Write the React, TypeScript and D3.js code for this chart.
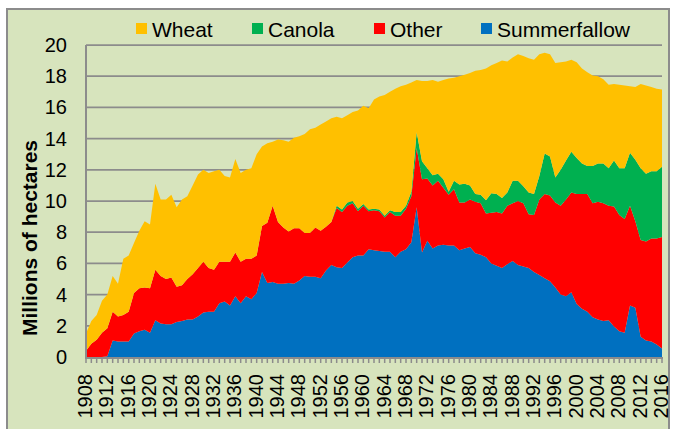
import { useEffect, useRef } from "react";
import * as d3 from "d3";

// years 1908..2016
const years = d3.range(1908, 2017);

// millions of hectares
const summerfallow = [
  0, 0, 0, 0, 0.05, 1.05, 1.0, 1.0, 1.0, 1.5, 1.65, 1.75, 1.55, 2.35, 2.15, 2.1, 2.1, 2.25, 2.3, 2.4,
  2.4, 2.6, 2.85, 2.9, 2.9, 3.45, 3.55, 3.3, 3.9, 3.45, 3.9, 3.7, 4.1, 5.45, 4.75, 4.8, 4.7, 4.7, 4.75, 4.7,
  4.9, 5.2, 5.15, 5.15, 5.05, 5.55, 5.9, 5.75, 5.7, 6.05, 6.4, 6.5, 6.5, 6.9, 6.85, 6.8, 6.75, 6.75, 6.4, 6.75,
  6.9, 7.35, 9.6, 6.7, 7.45, 6.95, 7.15, 7.2, 7.15, 7.15, 6.85, 6.95, 7.05, 6.65, 6.55, 6.4, 6.0, 5.85, 5.7, 5.95,
  6.15, 5.9, 5.8, 5.7, 5.45, 5.25, 5.05, 4.85, 4.45, 4.0, 3.9, 4.15, 3.4, 3.1, 2.9, 2.55, 2.4, 2.3, 2.35, 1.95,
  1.65, 1.55, 3.3, 3.15, 1.3, 1.05, 1.0, 0.8, 0.55,
];
const other = [
  0.4, 0.85, 1.1, 1.55, 1.8, 1.85, 1.6, 1.7, 1.9, 2.6, 2.75, 2.7, 2.85, 3.25, 3.05, 2.9, 3.0, 2.25, 2.3, 2.6,
  2.9, 3.1, 3.25, 2.8, 2.7, 2.65, 2.55, 2.8, 2.8, 2.65, 2.4, 2.6, 2.4, 2.95, 3.85, 4.9, 3.95, 3.6, 3.3, 3.55,
  3.35, 2.75, 2.8, 3.15, 3.05, 2.8, 2.75, 3.8, 3.6, 3.65, 3.45, 2.85, 3.2, 2.45, 2.55, 2.55, 2.2, 2.55, 2.65, 2.3,
  2.6, 2.95, 3.8, 4.7, 4.0, 4.05, 4.15, 3.65, 3.25, 3.6, 3.05, 2.95, 3.05, 3.3, 3.3, 2.8, 3.25, 3.45, 3.5, 3.75,
  3.7, 4.1, 4.05, 3.45, 3.65, 4.85, 5.4, 5.5, 5.45, 5.7, 6.2, 6.4, 7.05, 7.35, 7.55, 7.3, 7.55, 7.55, 7.35, 7.7,
  7.45, 7.3, 6.4, 5.55, 6.2, 6.35, 6.6, 6.8, 7.15,
];
const canola = [
  0, 0, 0, 0, 0, 0, 0, 0, 0, 0, 0, 0, 0, 0, 0, 0, 0, 0, 0, 0,
  0, 0, 0, 0, 0, 0, 0, 0, 0, 0, 0, 0, 0, 0, 0, 0, 0, 0, 0, 0,
  0, 0, 0, 0, 0, 0, 0, 0.15, 0.15, 0.2, 0.15, 0.15, 0.1, 0.1, 0.1, 0.1, 0.1, 0.1, 0.25, 0.25,
  0.2, 0.3, 1.0, 1.15, 0.65, 0.65, 0.45, 0.55, 0.2, 0.55, 1.15, 1.2, 0.9, 0.5, 0.55, 0.85, 1.25, 1.15, 1.0, 0.85,
  1.45, 1.3, 1.1, 1.4, 1.35, 1.5, 2.6, 2.5, 1.6, 2.3, 2.5, 2.6, 2.3, 1.95, 1.8, 2.4, 2.45, 2.55, 2.4, 2.95,
  3.0, 3.25, 3.4, 3.95, 4.6, 4.35, 4.3, 4.3, 4.5,
];
const wheat = [
  1.1, 1.45, 1.6, 2.05, 2.15, 2.3, 2.1, 3.6, 3.6, 3.2, 3.7, 4.25, 4.1, 5.5, 4.9, 5.1, 5.3, 5.1, 5.5, 5.3,
  5.7, 6.0, 5.9, 6.1, 6.3, 5.9, 5.5, 5.4, 6.0, 5.7, 5.7, 5.8, 6.5, 5.1, 5.1, 4.1, 5.3, 5.6, 5.75, 5.8,
  5.9, 6.35, 6.65, 6.4, 6.8, 6.75, 6.65, 5.7, 5.85, 5.6, 5.7, 6.3, 6.3, 6.5, 7.0, 7.25, 7.75, 7.6, 7.9, 8.05,
  7.75, 7.0, 3.35, 5.15, 5.6, 6.1, 5.9, 6.35, 7.25, 6.6, 6.95, 7.0, 7.2, 7.9, 8.0, 8.45, 8.2, 8.4, 8.8, 8.4,
  7.9, 8.1, 8.35, 8.6, 8.6, 7.8, 6.45, 6.55, 7.35, 6.9, 6.35, 5.9, 6.15, 6.1, 6.0, 5.8, 5.6, 5.4, 5.35, 4.9,
  5.35, 5.3, 4.25, 4.65, 5.4, 5.65, 5.4, 5.3, 4.95,
];

const yTicks = d3.range(0, 21, 2);
const xLabelYears = d3.range(1908, 2017, 4);

const series = [
  { key: "Summerfallow", values: summerfallow, color: "#0070C0" },
  { key: "Other", values: other, color: "#FF0000" },
  { key: "Canola", values: canola, color: "#00B050" },
  { key: "Wheat", values: wheat, color: "#FFC000" },
];
const legendItems = [
  { key: "Wheat", color: "#FFC000", x: 136 },
  { key: "Canola", color: "#00B050", x: 252 },
  { key: "Other", color: "#FF0000", x: 374 },
  { key: "Summerfallow", color: "#0070C0", x: 481 },
];

export default function App() {
  const svgRef = useRef(null);

  useEffect(() => {
    document.body.style.margin = "0";
    const width = 673, height = 429;
    const margin = { top: 45, right: 11, bottom: 72, left: 86 };
    const font = "'Liberation Sans', Arial, sans-serif";

    const svg = d3.select(svgRef.current);
    svg.selectAll("*").remove();
    svg.attr("width", width).attr("height", height);

    svg.append("rect").attr("width", width).attr("height", height).attr("fill", "#ffffff");
    svg.append("rect")
      .attr("x", 7).attr("y", 9).attr("width", 662).attr("height", 440)
      .attr("fill", "#D7E4BD").attr("stroke", "#8C8C8C").attr("stroke-width", 2);

    const x = d3.scaleLinear().domain([1908, 2016]).range([margin.left, width - margin.right]);
    const y = d3.scaleLinear().domain([0, 20]).range([height - margin.bottom, margin.top]);

    // gridlines
    svg.append("g").selectAll("line").data(yTicks.filter((d) => d > 0)).join("line")
      .attr("x1", x(1908)).attr("x2", x(2016))
      .attr("y1", (d) => y(d)).attr("y2", (d) => y(d))
      .attr("stroke", "#8C8C8C").attr("stroke-width", 1.75);

    // stacked areas
    const table = years.map((yr, i) => {
      const row: any = { year: yr };
      series.forEach((s) => (row[s.key] = s.values[i]));
      return row;
    });
    const stacked = d3.stack().keys(series.map((s) => s.key))(table);
    const area = d3.area()
      .x((d: any) => x(d.data.year))
      .y0((d: any) => y(d[0]))
      .y1((d: any) => y(d[1]));
    svg.append("g").selectAll("path").data(stacked).join("path")
      .attr("fill", (d, i) => series[i].color)
      .attr("d", area as any);

    // axes
    svg.append("line")
      .attr("x1", x(1908)).attr("x2", x(1908)).attr("y1", y(20)).attr("y2", y(0))
      .attr("stroke", "#8C8C8C").attr("stroke-width", 2);
    svg.append("line")
      .attr("x1", x(1908) - 1).attr("x2", x(2016) + 1).attr("y1", y(0) + 1).attr("y2", y(0) + 1)
      .attr("stroke", "#8C8C8C").attr("stroke-width", 2);
    svg.append("g").selectAll("line").data(years).join("line")
      .attr("x1", (d) => x(d)).attr("x2", (d) => x(d))
      .attr("y1", y(0) + 1).attr("y2", y(0) + 6)
      .attr("stroke", "#8C8C8C").attr("stroke-width", 1.5);

    svg.append("g").selectAll("text").data(yTicks).join("text")
      .attr("x", 67).attr("y", (d) => y(d)).attr("dy", "0.35em")
      .attr("text-anchor", "end").attr("font-family", font).attr("font-size", 20)
      .text((d) => d);

    svg.append("g").selectAll("text").data(xLabelYears).join("text")
      .attr("transform", (d) => `translate(${x(d)},374) rotate(-90)`)
      .attr("dy", "0.3em").attr("text-anchor", "end")
      .attr("font-family", font).attr("font-size", 20)
      .text((d) => d);

    svg.append("text")
      .attr("transform", "translate(37,238) rotate(-90)")
      .attr("text-anchor", "middle").attr("font-family", font)
      .attr("font-size", 21).attr("font-weight", "bold")
      .text("Millions of hectares");

    // legend
    const lg = svg.append("g").selectAll("g").data(legendItems).join("g")
      .attr("transform", (d) => `translate(${d.x},0)`);
    lg.append("rect").attr("x", 0).attr("y", 23).attr("width", 11).attr("height", 11)
      .attr("fill", (d) => d.color);
    lg.append("text").attr("x", 16).attr("y", 37)
      .attr("font-family", font).attr("font-size", 21)
      .text((d) => d.key);
  }, []);

  return <svg ref={svgRef} style={{ display: "block" }}></svg>;
}
